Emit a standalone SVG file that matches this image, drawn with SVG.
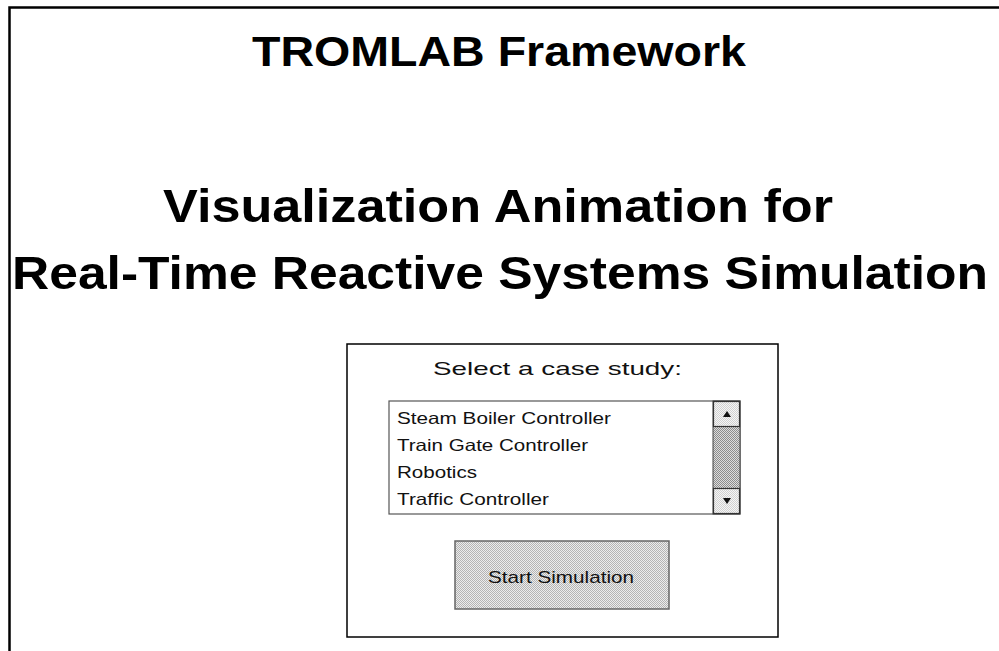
<svg xmlns="http://www.w3.org/2000/svg" width="999" height="651" viewBox="0 0 999 651">
  <defs>
    <!-- fine dither used by the scrollbar track and the button face -->
    <pattern id="dither" width="2" height="2" patternUnits="userSpaceOnUse">
      <rect width="2" height="2" fill="#dcdcdc"/>
      <rect width="1" height="1" fill="#8c8c8c"/>
      <rect x="1" y="1" width="1" height="1" fill="#8c8c8c"/>
    </pattern>
    <pattern id="ditherButton" width="2" height="2" patternUnits="userSpaceOnUse">
      <rect width="2" height="2" fill="#ececec"/>
      <rect width="1" height="1" fill="#b4b4b4"/>
      <rect x="1" y="1" width="1" height="1" fill="#b4b4b4"/>
    </pattern>
    <pattern id="ditherLight" width="2" height="2" patternUnits="userSpaceOnUse">
      <rect width="2" height="2" fill="#f6f6f6"/>
      <rect width="1" height="1" fill="#d0d0d0"/>
      <rect x="1" y="1" width="1" height="1" fill="#d0d0d0"/>
    </pattern>
  </defs>
  <style>
    .title { font-family: "Liberation Sans", Arial, sans-serif; font-weight: bold; fill: #000; }
    .ui { font-family: "Liberation Sans", Arial, sans-serif; fill: #111; }
    .frame { fill: none; stroke: #000; }
  </style>
  <rect width="999" height="651" fill="#fff"/>

  <!-- outer frame: top and left edges only -->
  <path class="frame" d="M9.5,651 V7.5 H999" stroke-width="2.5"/>

  <!-- headings -->
  <g id="heading">
    <text class="title" x="252" y="66" font-size="42" textLength="494" lengthAdjust="spacingAndGlyphs">TROMLAB Framework</text>
    <text class="title" x="163" y="222" font-size="46" textLength="670" lengthAdjust="spacingAndGlyphs">Visualization Animation for</text>
    <text class="title" x="12" y="289" font-size="47" textLength="976" lengthAdjust="spacingAndGlyphs">Real-Time Reactive Systems Simulation</text>
  </g>

  <!-- selection panel -->
  <g id="panel">
    <rect x="347" y="344" width="431" height="293" fill="#fff" stroke="#000" stroke-width="1.5"/>
    <text class="ui" x="433" y="375" font-size="19" fill="#222" textLength="249" lengthAdjust="spacingAndGlyphs">Select a case study:</text>
  </g>

  <!-- case study list -->
  <g id="case-list">
    <rect x="389" y="401" width="351" height="113" fill="#fff" stroke="#555" stroke-width="1.2"/>
    <text class="ui" x="397" y="424" font-size="16.5" textLength="214" lengthAdjust="spacingAndGlyphs">Steam Boiler Controller</text>
    <text class="ui" x="397" y="451" font-size="16.5" textLength="191" lengthAdjust="spacingAndGlyphs">Train Gate Controller</text>
    <text class="ui" x="397" y="478" font-size="16.5" textLength="80" lengthAdjust="spacingAndGlyphs">Robotics</text>
    <text class="ui" x="397" y="505" font-size="16.5" textLength="152" lengthAdjust="spacingAndGlyphs">Traffic Controller</text>
  </g>

  <!-- scrollbar -->
  <g id="scrollbar">
    <rect x="713" y="401" width="27" height="113" fill="url(#dither)" stroke="#444" stroke-width="1"/>
    <rect x="713.5" y="401.5" width="26" height="25" fill="url(#ditherLight)" stroke="#333" stroke-width="1.2"/>
    <path d="M723,417 L727,411 L731,417 Z" fill="#111"/>
    <rect x="713.5" y="488.5" width="26" height="25" fill="url(#ditherLight)" stroke="#333" stroke-width="1.2"/>
    <path d="M723,498 L731,498 L727,504 Z" fill="#111"/>
  </g>

  <!-- start button -->
  <g id="start-button">
    <rect x="455" y="541" width="214" height="68" fill="url(#ditherButton)" stroke="#666" stroke-width="1.5"/>
    <text class="ui" x="488" y="583" font-size="17" textLength="146" lengthAdjust="spacingAndGlyphs">Start Simulation</text>
  </g>
</svg>
